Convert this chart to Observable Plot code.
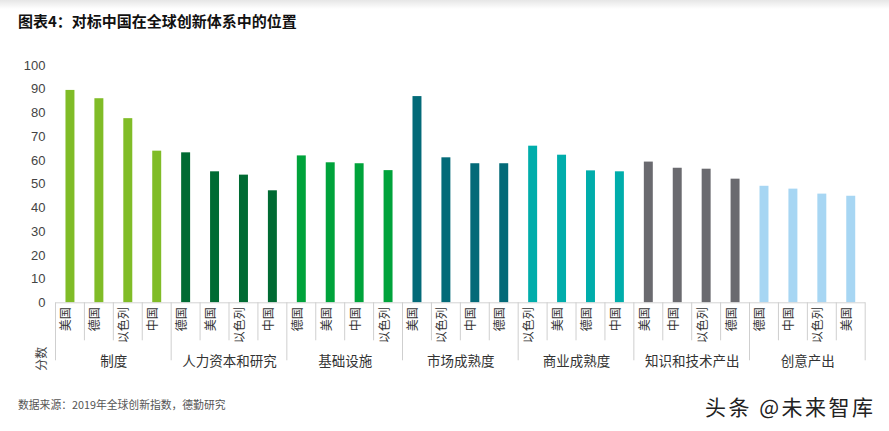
<!DOCTYPE html>
<html>
<head>
<meta charset="utf-8">
<script src="https://cdn.jsdelivr.net/npm/d3@7"></script>
<script src="https://cdn.jsdelivr.net/npm/@observablehq/plot@0.6"></script>
<style>
  html, body { margin: 0; padding: 0; background: #fff; }
  body { width: 889px; height: 431px; position: relative; overflow: hidden;
         font-family: "Liberation Sans", "Noto Sans CJK SC", sans-serif; }
  #shade { position: absolute; left: 0; top: 0; width: 889px; height: 9px;
           background: linear-gradient(#e6e6e6, rgba(255,255,255,0)); }
  #title { position: absolute; left: 18px; top: 11px; font-size: 15px; font-weight: bold;
           color: #111; font-family: "Noto Sans CJK SC", sans-serif; line-height: 20px; }
  #chart { position: absolute; left: 0; top: 40px; }
  #source { position: absolute; left: 18px; top: 397px; font-size: 10.8px; color: #555;
            font-family: "Noto Sans CJK SC", sans-serif; line-height: 14px; }
  #mark { position: absolute; left: 705px; top: 392px; font-size: 21px; letter-spacing: 2.5px; color: #222;
          font-family: "Noto Sans CJK SC", sans-serif; line-height: 28px; white-space: nowrap; }
</style>
</head>
<body>
<div id="shade"></div>
<div id="title">图表4：对标中国在全球创新体系中的位置</div>
<div id="chart"></div>
<div id="source">数据来源：2019年全球创新指数，德勤研究</div>
<div id="mark">头条 @未来智库</div>
<script>
const groups = ["制度", "人力资本和研究", "基础设施", "市场成熟度", "商业成熟度", "知识和技术产出", "创意产出"];
const groupColors = ["#80bc27", "#006b33", "#00a33b", "#036a78", "#00adab", "#6a6a6f", "#a7d6f3"];
const countries = [
  ["美国", "德国", "以色列", "中国"],
  ["德国", "美国", "以色列", "中国"],
  ["德国", "美国", "中国", "以色列"],
  ["美国", "以色列", "中国", "德国"],
  ["以色列", "美国", "德国", "中国"],
  ["美国", "中国", "以色列", "德国"],
  ["德国", "中国", "以色列", "美国"]
];
const scores = [
  [89.5, 86.0, 77.6, 63.9],
  [63.2, 55.2, 53.8, 47.2],
  [61.9, 59.0, 58.6, 55.7],
  [86.9, 61.1, 58.6, 58.6],
  [66.0, 62.2, 55.6, 55.2],
  [59.3, 56.7, 56.3, 52.1],
  [49.1, 47.9, 45.8, 44.9]
];
const yTicks = [0, 10, 20, 30, 40, 50, 60, 70, 80, 90, 100];
const yLabel = "分数";

const rows = [];
groups.forEach((g, gi) => {
  countries[gi].forEach((c, ci) => {
    rows.push({id: g + "|" + c, group: g, country: c, value: scores[gi][ci]});
  });
});
const ids = rows.map(d => d.id);
const groupRows = groups.map((g, gi) => ({group: g, id: rows[gi * 4 + 1].id}));

const W = 889, H = 340, mL = 55.5, mR = 23.8, mT = 25, mB = 77.7;
const step = (W - mL - mR) / ids.length;
const cjk = "'Noto Sans CJK SC', sans-serif";

const plot = Plot.plot({
  width: W, height: H,
  marginLeft: mL, marginRight: mR, marginTop: mT, marginBottom: mB,
  style: {fontSize: "13px", fontFamily: "'Liberation Sans', 'Noto Sans CJK SC', sans-serif", color: "#444", background: "transparent"},
  x: {type: "band", domain: ids, paddingInner: 0.69, paddingOuter: 0.345, round: false, axis: null},
  y: {domain: [0, 100], ticks: yTicks, tickSize: 0, tickPadding: 10.5, label: null},
  color: {domain: groups, range: groupColors},
  marks: [
    Plot.barY(rows, {x: "id", y: "value", fill: "group"}),
    Plot.ruleY([0], {stroke: "#d3d3d3", strokeWidth: 1}),
    Plot.text(rows, {x: "id", frameAnchor: "bottom", text: "country", rotate: -90,
      textAnchor: "end", dy: 4.5, fontSize: 12, fill: "#333", fontFamily: cjk}),
    Plot.text(groupRows, {x: "id", frameAnchor: "bottom", text: "group", dx: step / 2,
      dy: 63, fontSize: 13.5, fill: "#333", fontFamily: cjk}),
    Plot.text([yLabel], {frameAnchor: "bottom-left", text: d => d, rotate: -90,
      dx: -10, dy: 68, fontSize: 12, fill: "#444", fontFamily: cjk})
  ]
});

// category axis separators, positioned through the plot's own scales
const sx = plot.scale("x"), sy = plot.scale("y");
const y0 = sy.apply(0);
const svg = d3.select(plot.tagName.toLowerCase() === "svg" ? plot : plot.querySelector("svg"));
const sep = svg.append("g").attr("stroke", "#cfcfcf").attr("stroke-width", 1);
const gap = (sx.step - sx.bandwidth) / 2;
for (let i = 0; i <= ids.length; i++) {
  const xb = i < ids.length ? sx.apply(ids[i]) - gap : sx.apply(ids[ids.length - 1]) + sx.bandwidth + gap;
  const len = (i % 4 === 0) ? 58 : 38;
  sep.append("line").attr("x1", xb).attr("x2", xb).attr("y1", y0).attr("y2", y0 + len);
}
document.getElementById("chart").appendChild(plot);
</script>
</body>
</html>
